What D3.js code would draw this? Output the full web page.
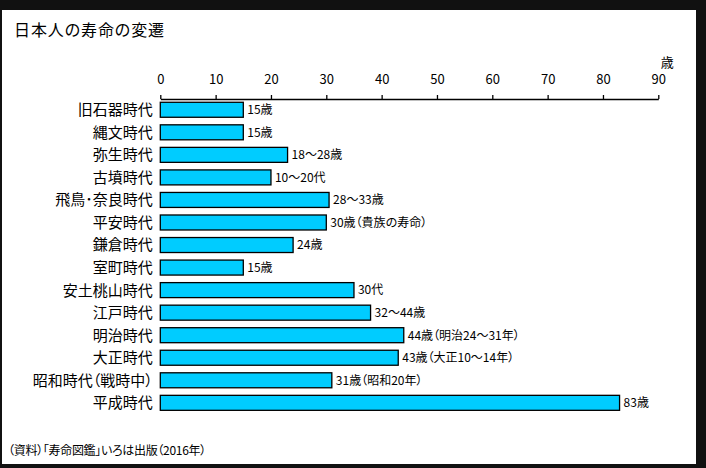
<!DOCTYPE html>
<html>
<head>
<meta charset="utf-8">
<script src="https://d3js.org/d3.v7.min.js"></script>
<style>
    html, body {
        margin: 0;
        padding: 0;
        background: #111;
    }
    svg text {
        font-family: "Noto Sans CJK JP", "Noto Sans", sans-serif;
        font-feature-settings: "palt";
        fill: #000;
    }
</style>
</head>
<body>
<script>
// Data
const periods = [
    '旧石器時代', '縄文時代', '弥生時代', '古墳時代', '飛鳥･奈良時代', '平安時代', '鎌倉時代',
    '室町時代', '安土桃山時代', '江戸時代', '明治時代', '大正時代', '昭和時代（戦時中）', '平成時代'
];
const lifespans = [15, 15, 23, 20, 30.5, 30, 24, 15, 35, 38, 44, 43, 31, 83];
const valueLabels = [
    '15歳', '15歳', '18～28歳', '10～20代', '28～33歳', '30歳（貴族の寿命）', '24歳',
    '15歳', '30代', '32～44歳', '44歳（明治24～31年）', '43歳（大正10～14年）', '31歳（昭和20年）', '83歳'
];
const ageTicks = [0, 10, 20, 30, 40, 50, 60, 70, 80, 90];

const title = '日本人の寿命の変遷';
const unit = '歳';
const source = '（資料）「寿命図鑑」いろは出版（2016年）';

const W = 706, H = 468;

const svg = d3.select('body').append('svg')
    .attr('width', W)
    .attr('height', H);

// black frame + white panel
svg.append('rect').attr('width', W).attr('height', H).attr('fill', '#111');
svg.append('rect')
    .attr('x', 2).attr('y', 10)
    .attr('width', 694).attr('height', 454)
    .attr('fill', '#fff');

const x = d3.scaleLinear().domain([0, 90]).range([160.3, 658.3]);
const y = d3.scaleBand()
    .domain(periods)
    .range([98.5, 414.1])
    .paddingInner(0.335)
    .paddingOuter(0.1675);

// title
svg.append('text')
    .attr('x', 14).attr('y', 36)
    .attr('font-size', 16)
    .attr('letter-spacing', 0.9)
    .text(title);

// axis on top
const axis = svg.append('g')
    .attr('transform', 'translate(0,99)')
    .call(d3.axisTop(x).tickValues(ageTicks).tickSize(4).tickSizeOuter(0).tickPadding(11));
axis.select('.domain').attr('stroke', '#000').attr('stroke-width', 1.3);
axis.selectAll('.tick line').attr('stroke', '#000').attr('stroke-width', 1.3);
axis.selectAll('.tick text')
    .attr('font-size', 13)
    .attr('font-family', '"Noto Sans CJK JP", sans-serif')
    .attr('fill', '#000');

svg.append('text')
    .attr('x', x(90) + 9).attr('y', 67)
    .attr('text-anchor', 'middle')
    .attr('font-size', 13)
    .text(unit);

// bars
svg.append('g').selectAll('rect')
    .data(lifespans)
    .join('rect')
    .attr('x', x(0))
    .attr('y', (d, i) => y(periods[i]))
    .attr('width', d => x(d) - x(0))
    .attr('height', y.bandwidth())
    .attr('fill', '#00CCFF')
    .attr('stroke', '#000')
    .attr('stroke-width', 1.3);

// category labels
svg.append('g').selectAll('text')
    .data(periods)
    .join('text')
    .attr('x', 152.7)
    .attr('y', d => y(d) + y.bandwidth() / 2)
    .attr('dy', '0.36em')
    .attr('text-anchor', 'end')
    .attr('font-size', 15)
    .text(d => d);

// value labels
svg.append('g').selectAll('text')
    .data(lifespans)
    .join('text')
    .attr('x', d => x(d) + 4)
    .attr('y', (d, i) => y(periods[i]) + y.bandwidth() / 2)
    .attr('dy', '0.36em')
    .attr('font-size', 12)
    .text((d, i) => valueLabels[i]);

// source note
svg.append('text')
    .attr('x', 8).attr('y', 455)
    .attr('font-size', 12)
    .attr('letter-spacing', -0.3)
    .text(source);
</script>
</body>
</html>
